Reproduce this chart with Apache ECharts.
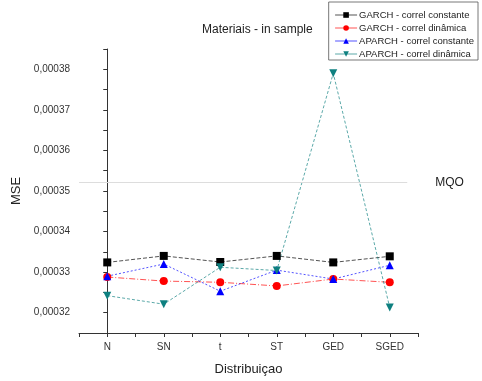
<!DOCTYPE html>
<html>
<head>
<meta charset="utf-8">
<script src="https://cdn.jsdelivr.net/npm/echarts@6/dist/echarts.min.js"></script>
<style>
  html, body { margin: 0; padding: 0; background: #fff; }
  #chart { width: 482px; height: 381px; }
</style>
</head>
<body>
<div id="chart"></div>
<script>
// Distributions on the x axis
const categories = ['N', 'SN', 't', 'ST', 'GED', 'SGED'];

// MSE per model
const garchConst   = [0.0003324, 0.0003340, 0.0003325, 0.0003340, 0.0003324, 0.0003339];
const garchDin     = [0.0003288, 0.0003278, 0.0003275, 0.0003266, 0.0003283, 0.0003275];
const aparchConst  = [0.0003290, 0.0003320, 0.0003253, 0.0003305, 0.0003283, 0.0003317];
const aparchDin    = [0.0003242, 0.0003221, 0.0003312, 0.0003304, 0.0003790, 0.0003213];

// OLS reference level
const mqoLevel = 0.0003521;

const seriesNames = [
  'GARCH - correl constante',
  'GARCH - correl dinâmica',
  'APARCH - correl constante',
  'APARCH - correl dinâmica'
];

const font = 'Liberation Sans, Arial, sans-serif';

function pairs(values) {
  return values.map((v, i) => [i, v]);
}

function makeSeries(name, values, color, symbol, dash) {
  return {
    name: name,
    type: 'line',
    data: pairs(values),
    symbol: symbol,
    symbolSize: 8,
    itemStyle: { color: color },
    lineStyle: { color: color, width: 0.8, type: dash, opacity: 0.85 },
    emphasis: { disabled: true },
    z: 3
  };
}

const series = [
  makeSeries(seriesNames[0], garchConst, '#000000', 'rect', [4, 2]),
  makeSeries(seriesNames[1], garchDin, '#ff0000', 'circle', [6, 2, 1, 2]),
  makeSeries(seriesNames[2], aparchConst, '#0000ff', 'triangle', [2, 2]),
  makeSeries(seriesNames[3], aparchDin, '#0e8080', 'path://M0,0 L10,0 L5,9 Z', [3, 2])
];

series[0].markLine = {
  silent: true,
  symbol: 'none',
  lineStyle: { color: '#dddddd', width: 1, type: 'solid' },
  label: {
    show: true,
    position: 'end',
    distance: 28,
    formatter: 'MQO',
    color: '#222',
    fontFamily: font,
    fontSize: 12
  },
  data: [[{ coord: [-0.5, mqoLevel] }, { coord: [5.31, mqoLevel] }]]
};

const chart = echarts.init(document.getElementById('chart'), null, { renderer: 'canvas' });

chart.setOption({
  animation: false,
  backgroundColor: '#ffffff',
  title: {
    text: 'Materiais - in sample',
    left: 197,
    top: 19,
    textStyle: { fontFamily: font, fontSize: 12, fontWeight: 'normal', color: '#222' }
  },
  legend: {
    orient: 'vertical',
    right: 4,
    top: 2,
    padding: [8, 4, 1, 6],
    itemGap: 3,
    itemWidth: 22,
    itemHeight: 7,
    borderColor: '#555',
    borderWidth: 0.8,
    backgroundColor: '#fff',
    data: seriesNames,
    lineStyle: { type: 'solid', width: 0.8 },
    textStyle: { fontFamily: font, fontSize: 9.5, color: '#222', padding: [0, 0, 0, -3] }
  },
  grid: { left: 79, right: 64, top: 49, bottom: 44 },
  xAxis: {
    type: 'value',
    min: -0.5,
    max: 5.5,
    interval: 0.5,
    name: 'Distribuiçao',
    nameLocation: 'middle',
    nameGap: 30,
    nameTextStyle: { fontFamily: font, fontSize: 13, color: '#222' },
    axisLine: { lineStyle: { color: '#333', width: 1 } },
    axisTick: { show: true, length: 4, lineStyle: { color: '#333' } },
    splitLine: { show: false },
    axisLabel: {
      color: '#333',
      fontFamily: font,
      fontSize: 10,
      margin: 9,
      showMinLabel: true,
      showMaxLabel: true,
      formatter: function (v) {
        const i = Math.round(v);
        return Math.abs(v - i) < 1e-6 && i >= 0 && i < categories.length ? categories[i] : '';
      }
    }
  },
  yAxis: {
    type: 'value',
    min: 0.000315,
    max: 0.000385,
    interval: 0.000005,
    name: 'MSE',
    nameLocation: 'middle',
    nameGap: 55,
    nameRotate: 90,
    nameTextStyle: { fontFamily: font, fontSize: 13, color: '#222' },
    axisLine: { show: true, lineStyle: { color: '#333', width: 1 } },
    axisTick: { show: true, length: 4, lineStyle: { color: '#333' } },
    splitLine: { show: false },
    axisLabel: {
      color: '#333',
      fontFamily: font,
      fontSize: 10,
      margin: 9,
      formatter: function (v) {
        const k = v * 1e5;
        if (Math.abs(k - Math.round(k)) > 1e-4) return '';
        return v.toFixed(5).replace('.', ',');
      }
    }
  },
  series: series
});
</script>
</body>
</html>
